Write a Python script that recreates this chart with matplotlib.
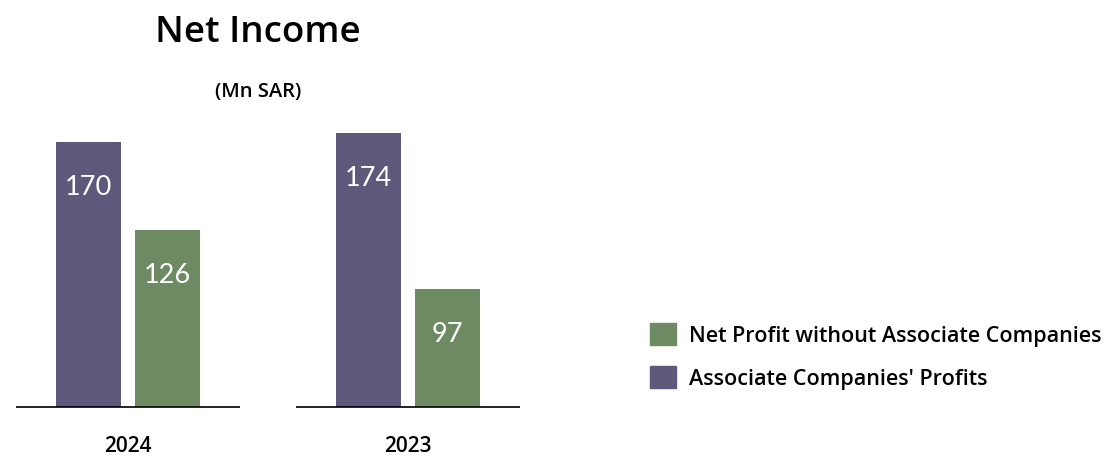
import matplotlib.pyplot as plt
import matplotlib.patches as mpatches
import numpy as np

plt.rcParams['font.family'] = ['Open Sans', 'DejaVu Sans']

years = ['2024', '2023']
associate = [170, 174]
net_without = [126, 97]

purple = '#5e587b'
green = '#6e8a62'

fig = plt.figure(figsize=(11.09, 4.6), dpi=100)
# axes box in pixels: x 16..520, baseline at 408 from top
ax = fig.add_axes([16 / 1109, 52 / 460, 504 / 1109, 280 / 460])

x = np.arange(len(years))
w = 0.2326
off = 0.1413
b1 = ax.bar(x - off, associate, w, color=purple, label="Associate Companies' Profits")
b2 = ax.bar(x + off, net_without, w, color=green, label='Net Profit without Associate Companies')

ax.set_xlim(-0.4007, 1.4007)
ax.set_ylim(38.4, 38.4 + 280 / 2.017)

# baseline segments under each group
for xi in x:
    ax.plot([xi - 0.4007, xi + 0.4007], [38.4, 38.4], color='black', lw=1.2,
            clip_on=False, solid_capstyle='butt')

for bars in (b1, b2):
    for r in bars:
        ax.annotate(f'{r.get_height():.0f}', (r.get_x() + r.get_width() / 2, r.get_height()),
                    xytext=(0, -32), textcoords='offset points', ha='center', va='center',
                    color='white', fontsize=19.5, family=['Lato', 'DejaVu Sans'])

ax.set_xticks(x)
ax.set_xticklabels(years, fontsize=15, fontweight='semibold')
ax.tick_params(axis='x', length=0, pad=20)
ax.set_yticks([])
for s in ax.spines.values():
    s.set_visible(False)

fig.text(258 / 1109, 1 - 33 / 460, 'Net Income', ha='center', va='center',
         fontsize=26.5, fontweight='semibold')
fig.text(258 / 1109, 1 - 92 / 460, '(Mn SAR)', ha='center', va='center',
         fontsize=14.5, fontweight='semibold')

handles = [mpatches.Patch(color=green, label='Net Profit without Associate Companies'),
           mpatches.Patch(color=purple, label="Associate Companies' Profits")]
fig.legend(handles=handles, loc='center left', bbox_to_anchor=(650 / 1109, 1 - 357 / 460),
           frameon=False, handlelength=1.2, handleheight=1.2,
           handletextpad=0.6, labelspacing=0.9, borderpad=0, borderaxespad=0,
           prop={'weight': 'semibold', 'size': 15.5})

fig.savefig('out.png', dpi=100)
